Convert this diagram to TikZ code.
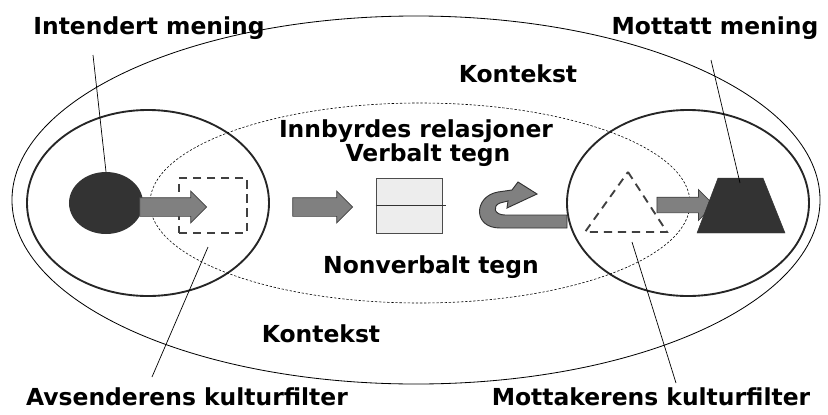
\documentclass[tikz,border=0pt]{standalone}
\usepackage{fontspec}
\setmainfont{DejaVu Sans}
\usetikzlibrary{
	shapes.geometric,
	shapes.arrows}

\begin{document}
\begin{tikzpicture}[x=0.03cm, y=-0.03cm]
		\tikzstyle{txt}=[font=\fontsize{20}{24}\selectfont\bfseries, inner sep=0pt]
		\tikzstyle{filterring}=[ellipse, draw=black!85, line width=1.6pt,
							minimum width=7.26cm, minimum height=5.58cm]
		\tikzstyle{blockarrow}=[single arrow, draw=black!75, fill=black!50,
							line width=0.6pt, inner xsep=0pt, inner ysep=0.27cm,
							single arrow head extend=0.2cm]
		\tikzstyle{dashedfilter}=[draw=black!75, line width=1.6pt,
							dash pattern=on 7pt off 5pt]
		\tikzstyle{leader}=[line width=0.6pt]

		\useasboundingbox (0,0) rectangle (828,415);

		% context and filters
		\node[ellipse, draw, line width=0.7pt, minimum width=24.24cm,
			minimum height=11.04cm] (context) at (416,200) {};
		\node[filterring] (sender) at (148,203) {};
		\node[filterring] (receiver) at (688,203) {};
		\node[ellipse, draw, line width=0.5pt, dash pattern=on 2pt off 1.5pt,
			minimum width=16.2cm, minimum height=6cm] (relations) at (420,203) {};

		% sender side
		\node[ellipse, fill=black!80, minimum width=2.22cm,
			minimum height=1.86cm] (meaning) at (106,203) {};
		\node[rectangle, dashedfilter, minimum width=2.04cm,
			minimum height=1.65cm] (sfilter) at (213,205.5) {};
		\node[blockarrow, minimum height=2.01cm] (arrowA) at (168.5,207) {};

		% sign
		\node[blockarrow, minimum height=1.8cm] (arrowB) at (318,207) {};
		\node[rectangle, draw=black!70, fill=black!7, line width=0.8pt,
			minimum width=1.98cm, minimum height=1.65cm] (sign) at (409,205.5) {};
		\draw[black!80, line width=0.6pt] (sign.west) -- ([xshift=3pt]sign.east);

		% u-turn
		\draw[draw=black!80, fill=black!50, line width=0.8pt]
			(567,215) -- (505,215) .. controls (494,215) and (492,206) .. (500,203)
			-- (508,201) -- (507,208) -- (537,194) -- (518,182) -- (512,190)
			-- (498,192) .. controls (474,196) and (472,228) .. (500,228)
			-- (567,228) -- cycle;

		% receiver side
		\draw[dashedfilter] (628,172) -- (667,232) -- (585,232) -- cycle;
		\coordinate (rfilter) at (632,242);
		\node[blockarrow, minimum height=1.71cm, inner ysep=0.225cm,
			single arrow head extend=0.23cm] (arrowC) at (681.5,205) {};
		\draw[fill=black!80, draw=black!80] (718,178) -- (763,178) -- (785,233)
			-- (697,233) -- cycle;
		\coordinate (received) at (740,183);

		% texts
		\node[txt] (intlbl) at (149,28) {Intendert mening};
		\node[txt] (reclbl) at (715,28) {Mottatt mening};
		\node[txt] (ctxtop) at (518,74) {Kontekst};
		\node[txt] (rellbl) at (416,131) {Innbyrdes relasjoner};
		\node[txt] (verblbl) at (428,155) {Verbalt tegn};
		\node[txt] (nonvlbl) at (431,267) {Nonverbalt tegn};
		\node[txt] (ctxbot) at (321,334) {Kontekst};
		\node[txt] (sndlbl) at (187,397) {Avsenderens kulturfilter};
		\node[txt] (rcvlbl) at (651,397) {Mottakerens kulturfilter};

		% leaders
		\coordinate (intend) at (93,55);
		\coordinate (recend) at (711,60);
		\coordinate (sndend) at (152,377);
		\coordinate (rcvend) at (676,383);
		\coordinate (sfiltpt) at (208,247);
		\draw[leader] (intend) -- (meaning.north);
		\draw[leader] (recend) -- (received);
		\draw[leader] (sfiltpt) -- (sndend);
		\draw[leader] (rfilter) -- (rcvend);
\end{tikzpicture}
\end{document}
